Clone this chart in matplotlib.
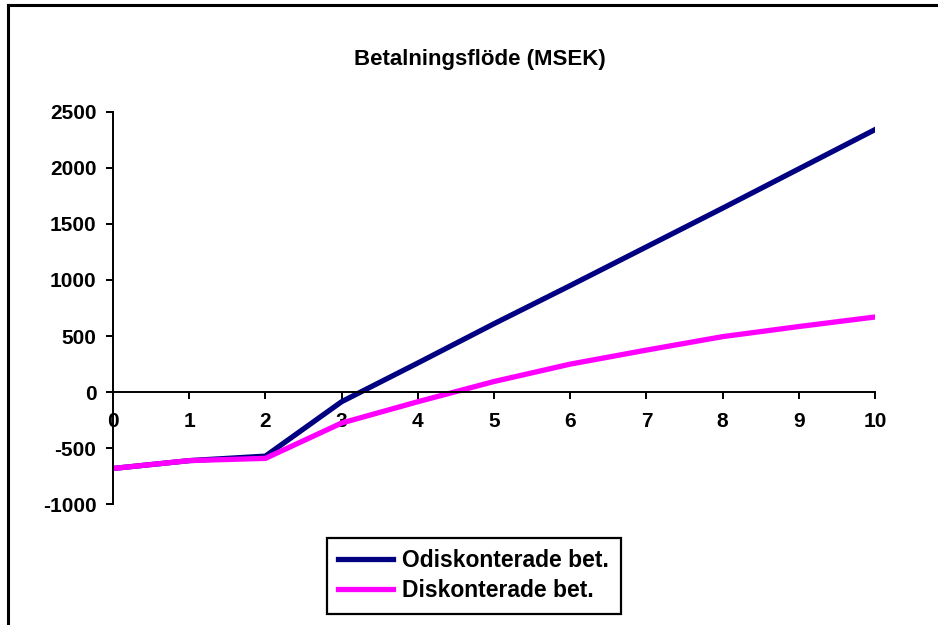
import matplotlib.pyplot as plt
from matplotlib.lines import Line2D

plt.rcParams['font.family'] = ['Liberation Sans', 'DejaVu Sans']
plt.rcParams['font.weight'] = 'bold'
plt.rcParams['axes.unicode_minus'] = False

# år och betalningsflöden (MSEK)
ar = [0, 1, 2, 3, 4, 5, 6, 7, 8, 9, 10]
odiskonterade = [-680, -610, -570, -85, 260, 610, 950, 1295, 1640, 1990, 2340]
diskonterade = [-680, -610, -590, -275, -85, 95, 250, 375, 495, 585, 670]

fig = plt.figure(figsize=(9.38, 6.25), dpi=100)
ax = fig.add_axes([0.1205, 0.193, 0.8123, 0.6283])

ax.plot(ar, odiskonterade, color='#000080', lw=3.8, label='Odiskonterade bet.')
ax.plot(ar, diskonterade, color='#FF00FF', lw=3.8, label='Diskonterade bet.')

ax.set_xlim(0, 10)
ax.set_ylim(-1000, 2500)
ax.set_xticks(ar)
ax.set_yticks(range(-1000, 2501, 500))

# x-axeln går genom noll
ax.spines['bottom'].set_position(('data', 0))
ax.spines['top'].set_visible(False)
ax.spines['right'].set_visible(False)
ax.spines['left'].set_linewidth(1.4)
ax.spines['bottom'].set_linewidth(1.4)
ax.tick_params(axis='y', direction='out', length=5, width=1.4, pad=7, labelsize=15)
ax.tick_params(axis='x', direction='out', length=5, width=1.4, pad=9, labelsize=15)
for lbl in ax.get_xticklabels() + ax.get_yticklabels():
    lbl.set_fontweight('bold')

fig.text(0.512, 0.904, 'Betalningsflöde (MSEK)', ha='center', va='center',
         fontsize=16, fontweight='bold')

leg = fig.legend(loc='center', bbox_to_anchor=(0.505, 0.079), fancybox=False,
                 edgecolor='black', framealpha=1, prop={'weight': 'bold', 'size': 16.5},
                 handlelength=2.4, handletextpad=0.4, borderpad=0.5, labelspacing=0.3)
leg.get_frame().set_linewidth(1.6)

# ram runt diagrammet
fig.add_artist(Line2D([8 / 938, 8 / 938], [0, 1 - 5 / 625], color='black', lw=2.2,
                      transform=fig.transFigure))
fig.add_artist(Line2D([8 / 938, 1], [1 - 5 / 625, 1 - 5 / 625], color='black', lw=2.2,
                      transform=fig.transFigure))

fig.savefig('out.png', dpi=100)
